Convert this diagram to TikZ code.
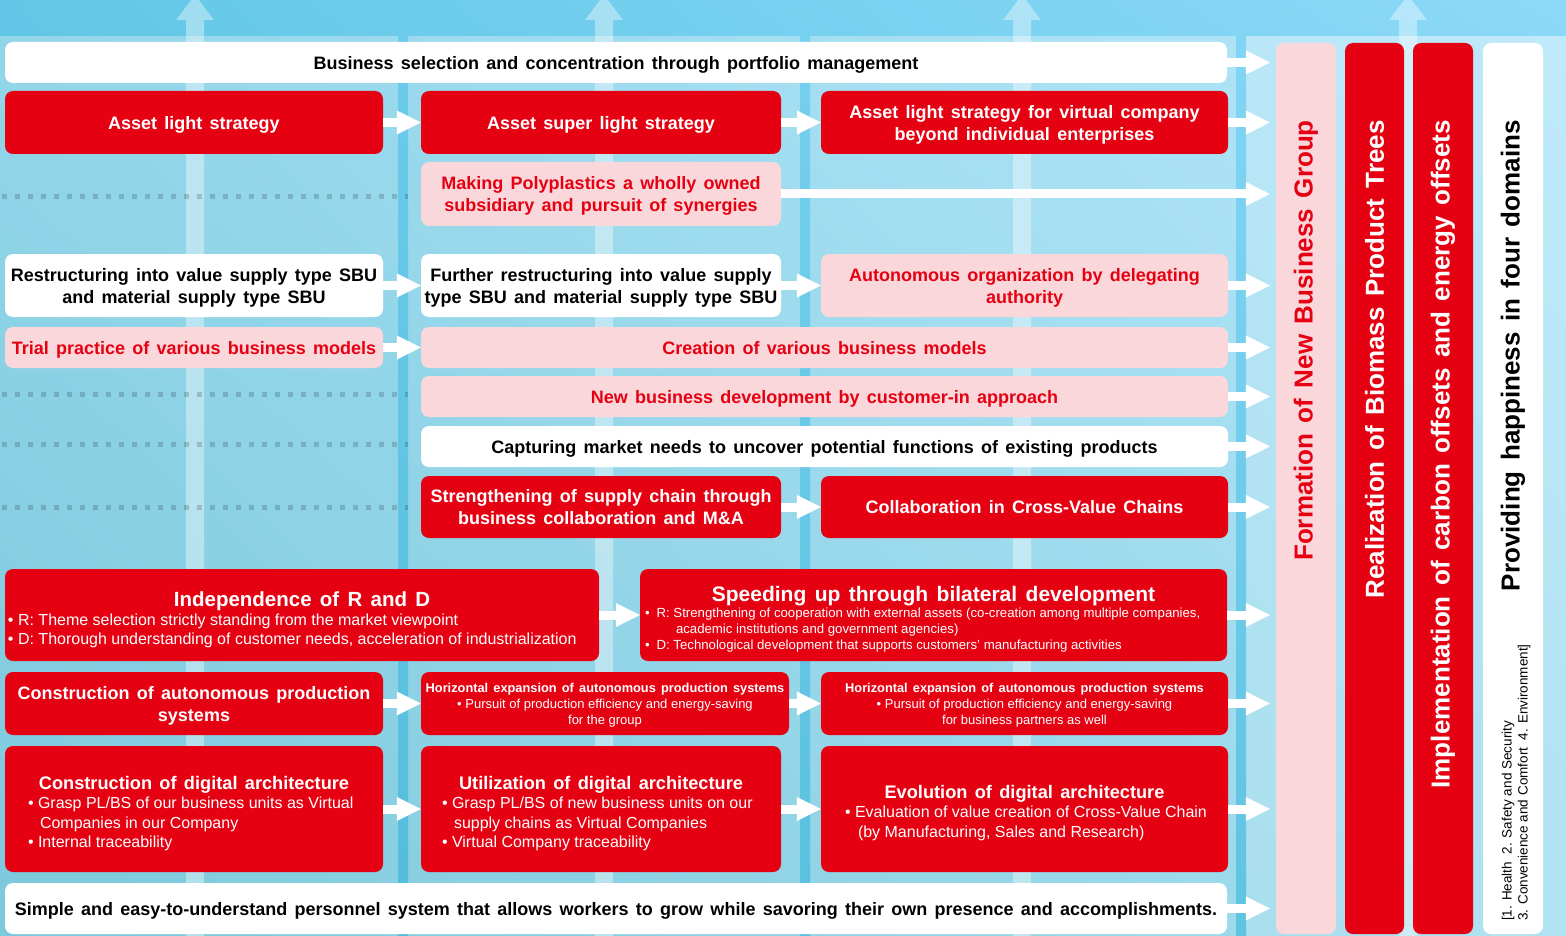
\documentclass[tikz,border=0pt]{standalone}
\usepackage{fontspec}
\setmainfont{Liberation Sans}[BoldFeatures={WordSpace=1.45}]
\usetikzlibrary{arrows.meta,shadings}
\definecolor{kred}{HTML}{E50012}
\definecolor{kpink}{HTML}{FAD7DA}
\definecolor{bgTL}{HTML}{93D6EA}
\definecolor{bgTR}{HTML}{B6E7FA}
\definecolor{bgBL}{HTML}{7CC9DB}
\definecolor{bgBR}{HTML}{A3DDEF}
\definecolor{bandTL}{HTML}{62C7E6}
\definecolor{bandTR}{HTML}{8DD9F9}
\definecolor{bandBL}{HTML}{4FBAD8}
\definecolor{bandBR}{HTML}{62C6E4}

\tikzset{
  box/.style={rounded corners=8pt, inner sep=0pt, align=center, text depth=-4pt,
    font=\bfseries\fontsize{18}{22}\selectfont},
  redbox/.style={box, fill=kred, text=white},
  pinkbox/.style={box, fill=kpink, text=kred},
  whitebox/.style={box, fill=white, text=black},
  listbox/.style={redbox, text depth={}},
  flowarrow/.style={draw=white, line width=9pt,
    -{Triangle[length=24pt,width=24pt,line width=0pt]}},
  bar/.style={rounded corners=8pt, inner sep=0pt, minimum height=891pt},
  bartext/.style={font=\bfseries\fontsize{26}{30}\selectfont, rotate=90,
    anchor=east, inner sep=0pt},
  uparrow/.style={fill=white, opacity=0.38},
  gridline/.style={draw=black, opacity=0.17, line width=5pt,
    dash pattern=on 5pt off 8pt},
}

\begin{document}
\begin{tikzpicture}[x=1pt,y=-1pt]
\useasboundingbox (0,0) rectangle (1566,936);
\clip (0,0) rectangle (1566,936);

% background, goal panel, top band and column separators
\shade[shading=bilinear interpolation, upper left=bgTL, upper right=bgTR,
  lower left=bgBL, lower right=bgBR]
  (0,0) rectangle (1566,936);
\fill[white, opacity=0.15] (1246,36) rectangle (1566,936);
\shade[shading=bilinear interpolation, upper left=bandTL, upper right=bandTR,
  lower left=bandBL, lower right=bandBR]
  (0,0) rectangle (1566,36)
  (398,36) rectangle (408,936)
  (800,36) rectangle (810,936)
  (1236,36) rectangle (1246,936);

% faint upward arrows
\foreach \cx in {195,604,1022,1408}{
  \fill[uparrow] ({\cx-9},936) -- ({\cx-9},20) -- ({\cx-19},20) -- (\cx,-5)
    -- ({\cx+19},20) -- ({\cx+9},20) -- ({\cx+9},936) -- cycle;
}

% dotted guide lines in the first column
\foreach \yy in {197,394,444,507}{
  \draw[gridline] (2,\yy) -- (408,\yy);
}

% banner
\node[whitebox, minimum width=1222pt, minimum height=41pt] (sel) at (616,62.5)
  {Business selection and concentration through portfolio management};

% row 1
\node[redbox, minimum width=378pt, minimum height=63pt] (al1) at (194,122.5)
  {Asset light strategy};
\node[redbox, minimum width=360pt, minimum height=63pt] (al2) at (601,122.5)
  {Asset super light strategy};
\node[redbox, minimum width=407pt, minimum height=63pt] (al3) at (1024.5,122.5)
  {Asset light strategy for virtual company\\beyond individual enterprises};

% row 2
\node[pinkbox, minimum width=360pt, minimum height=64pt] (pp) at (601,194)
  {Making Polyplastics a wholly owned\\subsidiary and pursuit of synergies};

% row 3
\node[whitebox, minimum width=378pt, minimum height=63pt] (rs1) at (194,285.5)
  {Restructuring into value supply type SBU\\and material supply type SBU};
\node[whitebox, minimum width=360pt, minimum height=63pt] (rs2) at (601,285.5)
  {Further restructuring into value supply\\type SBU and material supply type SBU};
\node[pinkbox, minimum width=407pt, minimum height=63pt] (ao3) at (1024.5,285.5)
  {Autonomous organization by delegating\\authority};

% rows 4-6
\node[pinkbox, minimum width=378pt, minimum height=41pt] (tp1) at (194,347.5)
  {Trial practice of various business models};
\node[pinkbox, minimum width=807pt, minimum height=41pt] (cb2) at (824.5,347.5)
  {Creation of various business models};
\node[pinkbox, minimum width=807pt, minimum height=41pt] (nb) at (824.5,396.5)
  {New business development by customer-in approach};
\node[whitebox, minimum width=807pt, minimum height=41pt] (cm) at (824.5,446.5)
  {Capturing market needs to uncover potential functions of existing products};

% row 7
\node[redbox, minimum width=360pt, minimum height=62pt] (ss2) at (601,507)
  {Strengthening of supply chain through\\business collaboration and M\&A};
\node[redbox, minimum width=407pt, minimum height=62pt] (cc3) at (1024.5,507)
  {Collaboration in Cross-Value Chains};

% row 8
\node[listbox, minimum width=594pt, minimum height=92pt] (rd1) at (302,615) {%
  \begin{minipage}{588pt}\vspace*{9pt}\centering
  {\fontsize{20.5}{24}\selectfont Independence of R and D\par}
  \raggedright\mdseries\fontsize{16}{19}\selectfont
  \mbox{• R: Theme selection strictly standing from the market viewpoint}\par
  \mbox{• D: Thorough understanding of customer needs, acceleration of industrialization}
  \end{minipage}};
\node[listbox, minimum width=587pt, minimum height=92pt] (sp2) at (933.5,615) {%
  \begin{minipage}{577pt}\vspace*{9pt}\centering
  {\fontsize{21}{23}\selectfont Speeding up through bilateral development\par}
  \raggedright\mdseries\fontsize{13.2}{16}\selectfont
  \mbox{•\hspace{7pt}R: Strengthening of cooperation with external assets (co-creation among multiple companies,}\par
  \hspace*{31pt}academic institutions and government agencies)\par
  \mbox{•\hspace{7pt}D: Technological development that supports customers' manufacturing activities}
  \end{minipage}};

% row 9
\node[redbox, minimum width=378pt, minimum height=63pt] (ap1) at (194,703.5)
  {Construction of autonomous production\\systems};
\node[redbox, minimum width=368pt, minimum height=63pt,
  font=\mdseries\fontsize{13}{16}\selectfont] (he2) at (605,703.5)
  {{\bfseries\fontsize{12.8}{16}\selectfont Horizontal expansion of autonomous production systems}\\
   • Pursuit of production efficiency and energy-saving\\for the group};
\node[redbox, minimum width=407pt, minimum height=63pt,
  font=\mdseries\fontsize{13}{16}\selectfont] (he3) at (1024.5,703.5)
  {{\bfseries\fontsize{12.8}{16}\selectfont Horizontal expansion of autonomous production systems}\\
   • Pursuit of production efficiency and energy-saving\\for business partners as well};

% row 10
\node[listbox, minimum width=378pt, minimum height=126pt] (cd1) at (194,809) {%
  \begin{minipage}{332pt}\vspace*{9pt}\centering
  {\fontsize{18.2}{22}\selectfont Construction of digital architecture\par}
  \raggedright\mdseries\fontsize{16}{19.5}\selectfont
  \mbox{• Grasp PL/BS of our business units as Virtual}\par
  \hspace*{12pt}Companies in our Company\par
  • Internal traceability
  \end{minipage}};
\node[listbox, minimum width=360pt, minimum height=126pt] (ud2) at (601,809) {%
  \begin{minipage}{318pt}\vspace*{9pt}\centering
  {\fontsize{18.2}{22}\selectfont Utilization of digital architecture\par}
  \raggedright\mdseries\fontsize{16}{19.5}\selectfont
  \mbox{• Grasp PL/BS of new business units on our}\par
  \hspace*{12pt}supply chains as Virtual Companies\par
  • Virtual Company traceability
  \end{minipage}};
\node[listbox, minimum width=407pt, minimum height=126pt] (ed3) at (1024.5,809) {%
  \begin{minipage}{359pt}\vspace*{8pt}\centering
  {\fontsize{18.2}{22}\selectfont Evolution of digital architecture\par}
  \raggedright\mdseries\fontsize{16}{19.5}\selectfont
  \mbox{• Evaluation of value creation of Cross-Value Chain}\par
  \hspace*{13pt}(by Manufacturing, Sales and Research)
  \end{minipage}};

% row 11
\node[whitebox, minimum width=1222pt, minimum height=51pt] (ps) at (616,908.5)
  {Simple and easy-to-understand personnel system that allows workers to grow while savoring their own presence and accomplishments.};

% goal bars
\node[bar, fill=kpink, minimum width=60pt] (fng) at (1306,488.5) {};
\node[bar, fill=kred, minimum width=59pt] (rbp) at (1374.5,488.5) {};
\node[bar, fill=kred, minimum width=60pt] (ico) at (1443,488.5) {};
\node[bar, fill=white, minimum width=60pt] (phd) at (1513,488.5) {};
\node[bartext, text=kred] (fngt) at (1306,120) {Formation of New Business Group};
\node[bartext, text=white] (rbpt) at (1374.5,120) {Realization of Biomass Product Trees};
\node[bartext, text=white] (icot) at (1443,120) {Implementation of carbon offsets and energy offsets};
\node[bartext, text=black] (phdt) at (1513,120) {Providing happiness in four domains};
\node[rotate=90, anchor=west, align=left, inner sep=0pt,
  font=\fontsize{13.5}{16}\selectfont] (four) at (1516,921)
  {[1. Health~~2. Safety and Security\\3. Convenience and Comfort~~4. Environment]};

% arrows between columns
\draw[flowarrow] (al1.east) -- (al2.west);
\draw[flowarrow] (al2.east) -- (al3.west);
\draw[flowarrow] (rs1.east) -- (rs2.west);
\draw[flowarrow] (rs2.east) -- (ao3.west);
\draw[flowarrow] (tp1.east) -- (cb2.west);
\draw[flowarrow] (ss2.east) -- (cc3.west);
\draw[flowarrow] (rd1.east) -- (sp2.west);
\draw[flowarrow] (ap1.east) -- (he2.west);
\draw[flowarrow] (he2.east) -- (he3.west);
\draw[flowarrow] (cd1.east) -- (ud2.west);
\draw[flowarrow] (ud2.east) -- (ed3.west);

% arrows into the goal bars
\foreach \n in {sel,al3,pp,ao3,cb2,nb,cm,cc3,sp2,he3,ed3,ps}{
  \draw[flowarrow] (\n.east) -- ([xshift=-6pt]fng.west |- \n.east);
}
\end{tikzpicture}
\end{document}
